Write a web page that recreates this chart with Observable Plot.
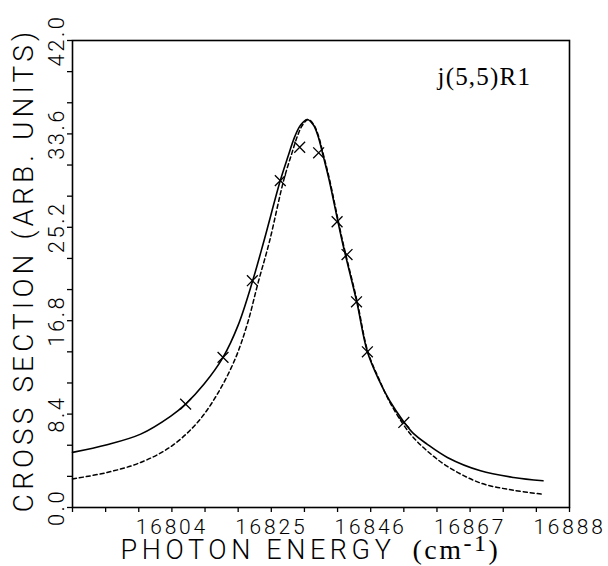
<!DOCTYPE html>
<html><head><meta charset="utf-8">
<script src="https://cdn.jsdelivr.net/npm/d3@7"></script>
<script src="https://cdn.jsdelivr.net/npm/@observablehq/plot@0.6"></script>
<style>
body{margin:0;background:#fff}
#c{width:608px;height:566px}
</style>
</head><body><div id="c"></div>
<script>
// Solid curve (fit 1)
const solidE = [16783.0,16790.3,16797.4,16803.7,16806.9,16810.8,16814.8,16818.0,16821.0,16823.4,16826.9,16828.4,16830.0,16831.2,16832.6,16833.9,16834.8,16836.1,16837.2,16840.0,16843.0,16845.3,16847.7,16850.0,16853.0,16855.0,16857.9,16862.2,16869.2,16876.2,16882.4];
const solidV = [4.96,5.65,6.6,8.2,9.3,11.1,13.5,16.4,20.3,23.9,29.4,31.4,33.4,34.4,34.9,34.4,33.5,31.4,29.5,23.9,18.6,14.0,11.5,9.6,7.7,6.66,5.7,4.5,3.3,2.7,2.4];
// Dashed curve (fit 2)
const dashE = [16783.0,16790.3,16797.4,16803.7,16809.3,16813.6,16817.4,16820.0,16822.2,16824.6,16827.6,16829.3,16830.6,16831.6,16832.8,16834.0,16834.9,16836.2,16837.3,16840.1,16843.1,16845.4,16847.8,16850.0,16853.0,16855.0,16857.9,16862.2,16869.2,16876.2,16882.2];
const dashV = [2.57,3.15,4.05,5.45,7.6,10.2,13.4,16.6,20.2,23.9,29.4,31.8,33.5,34.4,34.9,34.4,33.5,31.4,29.5,23.9,18.6,14.0,11.5,9.5,7.4,6.3,5.1,3.7,2.2,1.55,1.2];
// Measured points (crosses)
const crossE = [16806.9,16814.8,16821.0,16826.9,16831.0,16835.0,16838.9,16841.0,16843.0,16845.3,16853.0];
const crossV = [9.3,13.5,20.4,29.4,32.4,31.9,25.7,22.75,18.5,14.0,7.65];
// Axes
const xMinor = [16783,16790,16797,16804,16811,16818,16825,16832,16839,16846,16853,16860,16867,16874,16881,16888];
const xMajor = [16804,16825,16846,16867,16888];
const xTickLabels = ["16804","16825","16846","16867","16888"];
const yMinor = [0,2.8,5.6,8.4,11.2,14,16.8,19.6,22.4,25.2,28,30.8,33.6,36.4,39.2,42];
const yMajor = [0,8.4,16.8,25.2,33.6,42];
const yTickLabels = ["0.0","8.4","16.8","25.2","33.6","42.0"];
const xTitle = "PHOTON ENERGY";
const xUnit = "(cm-1)";
const yTitle = "CROSS SECTION (ARB. UNITS)";
const annotation = "j(5,5)R1";

const solid = solidE.map((e,i)=>({e, v: solidV[i]}));
const dashed = dashE.map((e,i)=>({e, v: dashV[i]}));
const crosses = crossE.map((e,i)=>({e, v: crossV[i]}));
const yTicks = yMajor.map((v,i)=>({v, t: yTickLabels[i]}));

const sans = "Roboto, 'DejaVu Sans', sans-serif";
const serif = "'Liberation Serif', 'Times New Roman', serif";

const plot = Plot.plot({
  width: 608, height: 566,
  marginLeft: 72, marginRight: 39, marginTop: 40, marginBottom: 59,
  x: {domain: [16783, 16888], label: null},
  y: {domain: [0, 42], label: null},
  style: {fontFamily: sans, background: "white", color: "black", overflow: "visible"},
  marks: [
    Plot.axisX({ticks: xMinor, tickSize: 5, fill: "none", strokeWidth: 1.3, label: null}),
    Plot.axisX({ticks: xMajor, tickSize: 0, tickPadding: 12, fontSize: 21, fontWeight: 300, label: null,
      tickFormat: d => xTickLabels[xMajor.indexOf(d)]}),
    Plot.axisY({ticks: yMinor, tickSize: 5, fill: "none", strokeWidth: 1.3, label: null}),
    Plot.text(yTicks, {y: "v", text: "t", frameAnchor: "left", rotate: -90, textAnchor: "middle",
      lineAnchor: "bottom", dx: -9, fontSize: 22, fontWeight: 300}),
    Plot.frame({stroke: "black", strokeWidth: 1.6}),
    Plot.line(solid, {x: "e", y: "v", curve: "catmull-rom", stroke: "black", strokeWidth: 1.6}),
    Plot.line(dashed, {x: "e", y: "v", curve: "catmull-rom", stroke: "black", strokeWidth: 1.5, strokeDasharray: "4,3"}),
    Plot.dot(crosses, {x: "e", y: "v", symbol: "times", r: 5, stroke: "black", strokeWidth: 1.3}),
    Plot.text([annotation], {text: d => d, frameAnchor: "top-right", textAnchor: "start", lineAnchor: "bottom",
      dx: -132, dy: 44, fontSize: 25, fontFamily: serif}),
    Plot.text([xTitle], {text: d => d, frameAnchor: "bottom-left", textAnchor: "start", lineAnchor: "bottom",
      dx: 48, dy: 51, fontSize: 27, fontWeight: 300}),
    Plot.text([xUnit], {text: d => d, frameAnchor: "bottom-left", textAnchor: "start", lineAnchor: "bottom",
      dx: 340, dy: 51, fontSize: 28, fontFamily: serif}),
    Plot.text([yTitle], {text: d => d, frameAnchor: "left", rotate: -90, textAnchor: "middle", lineAnchor: "bottom",
      dx: -40, dy: -4, fontSize: 28, fontWeight: 300})
  ]
});
document.getElementById("c").appendChild(plot);

const svg = d3.select(plot);
svg.selectAll("text").each(function(){
  const s = this.textContent;
  const t = d3.select(this);
  if (xTickLabels.includes(s)) t.style("letter-spacing", "2.8px");
  else if (yTickLabels.includes(s)) t.style("letter-spacing", "2.5px");
  else if (s === xTitle) t.style("letter-spacing", "4.6px");
  else if (s === yTitle) t.style("letter-spacing", "4.1px");
  else if (s === annotation) t.style("letter-spacing", "1.2px");
  else if (s === xUnit) {
    const parts = xUnit.match(/^(\(cm)(-1)(\))$/);
    t.text(null).style("letter-spacing", "2.5px");
    t.append("tspan").text(parts[1]);
    t.append("tspan").attr("dy", -8).style("font-size", "24px").text(parts[2]);
    t.append("tspan").attr("dy", 8).text(parts[3]);
  }
});
</script>
</body></html>
